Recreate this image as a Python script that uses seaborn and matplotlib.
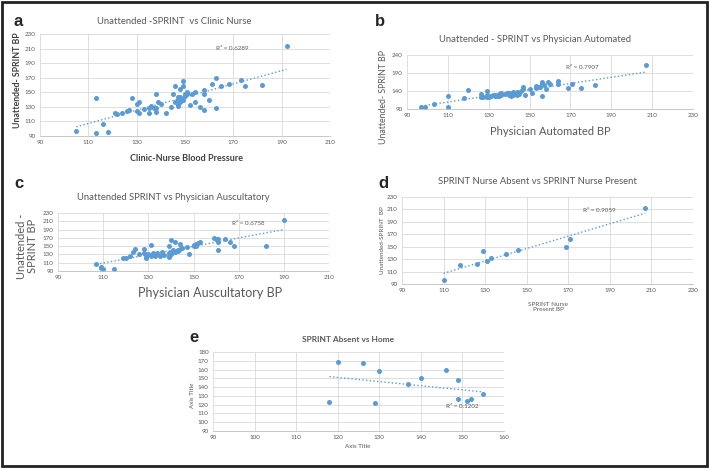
import numpy as np
import pandas as pd
import matplotlib
matplotlib.use("Agg")
import matplotlib.pyplot as plt
import seaborn as sns
from matplotlib.patches import Rectangle

sns.set_theme(style="white")
plt.rcParams['font.family'] = ['Lato', 'DejaVu Sans']

# --- panel a: unattended vs clinic nurse ---
a_x = [105, 113, 113, 116, 118, 121, 122, 124, 126, 127, 128, 130, 130, 131, 131, 133,
       135, 135, 136, 137, 138, 138, 138, 139, 140, 142, 144, 145, 146, 147, 147, 148,
       148, 149, 149, 148, 149, 148, 150, 150, 151, 152, 153, 154, 154, 156, 158, 158,
       158, 160, 161, 163, 163, 165, 168, 173, 175, 182, 192, 146, 147, 147, 148, 151]
a_y = [97, 142, 94, 106, 95, 121, 120, 121, 124, 125, 142, 124, 134, 136, 122, 127,
       122, 129, 131, 128, 128, 147, 123, 137, 134, 121, 130, 147, 159, 131, 134, 155,
       143, 166, 158, 137, 139, 142, 147, 145, 148, 133, 147, 151, 136, 130, 153, 148,
       126, 140, 162, 169, 128, 158, 161, 167, 158, 160, 213, 136, 140, 144, 140, 150]

# --- panel b: unattended vs physician automated ---
b_x = [97, 99, 103, 110, 110, 118, 120, 126, 126, 127, 129, 129, 129, 131, 132, 133,
       134, 135, 135, 136, 136, 140, 140, 141, 142, 143, 144, 145, 146, 147, 147, 148,
       151, 153, 153, 154, 155, 156, 156, 156, 158, 159, 160, 164, 164, 169, 171, 175,
       182, 207, 130, 133, 138, 139, 142, 144, 150, 157]
b_y = [95, 96, 105, 126, 95, 120, 142, 131, 122, 122, 141, 130, 122, 125, 128, 130,
       125, 132, 127, 134, 128, 130, 134, 125, 130, 134, 130, 133, 139, 145, 150, 130,
       134, 148, 153, 150, 151, 165, 159, 125, 146, 165, 159, 168, 160, 148, 160, 149,
       156, 212, 124, 126, 131, 135, 136, 138, 145, 156]

# --- panel c: unattended vs physician auscultatory ---
c_x = [107, 109, 109, 110, 115, 119, 120, 122, 123, 124, 126, 128, 128, 129, 130, 131,
       131, 132, 133, 134, 136, 137, 139, 139, 139, 140, 140, 141, 142, 143, 144, 144,
       145, 147, 148, 150, 151, 151, 152, 153, 159, 160, 161, 161, 161, 164, 166, 168,
       182, 190, 139, 140, 142, 143, 129, 133, 135, 150]
c_y = [108, 99, 97, 95, 96, 121, 122, 126, 137, 144, 130, 143, 134, 124, 130, 152,
       125, 133, 127, 133, 137, 129, 133, 151, 123, 166, 137, 141, 159, 141, 156, 142,
       145, 148, 132, 150, 156, 150, 158, 159, 170, 167, 160, 141, 167, 167, 161, 150,
       150, 213, 127, 131, 135, 138, 122, 129, 125, 153]

# --- panel d: nurse absent vs nurse present ---
d_x = [110, 118, 126, 129, 131, 133, 140, 146, 169, 171, 207]
d_y = [96, 121, 122, 143, 127, 132, 138, 144, 150, 162, 213]

# --- panel e: absent vs home ---
e_x = [118, 120, 126, 130, 129, 137, 140, 146, 149, 149, 151, 152, 155]
e_y = [123, 169, 167, 158, 122, 144, 150, 159, 148, 127, 124, 126, 132]

BLUE = '#5B9BD5'
GRID = '#D9D9D9'
TXT = '#595959'
TITLE_FS = 6.8

fig = plt.figure(figsize=(7.09, 4.69), dpi=100)


def px_axes(x0, y0, x1, y1):
    # pixel box (left, top, right, bottom) -> figure axes
    W, H = 709, 469
    return fig.add_axes([x0 / W, 1 - y1 / H, (x1 - x0) / W, (y1 - y0) / H])


def panel(ax, x, y, xlim, xstep, ylim, ystep, r2, r2_pos):
    df = pd.DataFrame({'x': x, 'y': y})
    sns.regplot(data=df, x='x', y='y', ax=ax, ci=None, color=BLUE,
                scatter_kws={'s': 13, 'alpha': 1, 'linewidths': 0},
                line_kws={'ls': ':', 'lw': 1.0, 'color': BLUE})
    ax.set_xlim(*xlim)
    ax.set_ylim(*ylim)
    ax.set_xticks(np.arange(xlim[0], xlim[1] + 1, xstep))
    ax.set_yticks(np.arange(ylim[0], ylim[1] + 1, ystep))
    ax.grid(True, color=GRID, lw=0.6)
    ax.set_axisbelow(True)
    for s in ['top', 'right', 'left']:
        ax.spines[s].set_visible(False)
    ax.spines['bottom'].set_color('#BFBFBF')
    ax.spines['bottom'].set_linewidth(0.6)
    ax.tick_params(axis='both', length=0, labelsize=4.5, labelcolor=TXT, pad=3)
    ax.set_xlabel('')
    ax.set_ylabel('')
    ax.text(r2_pos[0], r2_pos[1], r2, fontsize=4.5, color=TXT)


# a
ax = px_axes(40, 34, 330, 136)
panel(ax, a_x, a_y, (90, 210), 20, (90, 230), 20, 'R² = 0.6289', (163, 208))
fig.text(14 / 709, 1 - 21 / 469, 'a', fontsize=12, fontweight='bold', family='Liberation Sans', va='center')
fig.text(174 / 709, 1 - 21 / 469, 'Unattended -SPRINT  vs Clinic Nurse', fontsize=TITLE_FS, color=TXT, ha='center', va='center')
fig.text(18 / 709, 1 - 80 / 469, 'Unattended- SPRINT BP', fontsize=6.3, fontweight='bold', color='#404040', rotation=90, ha='center', va='center')
fig.text(186 / 709, 1 - 158 / 469, 'Clinic-Nurse Blood Pressure', fontsize=6.5, fontweight='bold', color='#404040', ha='center', va='center')

# b
ax = px_axes(407, 55, 693, 109)
panel(ax, b_x, b_y, (90, 230), 20, (90, 240), 50, 'R² = 0.7907', (168, 202))
fig.text(375 / 709, 1 - 22 / 469, 'b', fontsize=12, fontweight='bold', family='Liberation Sans', va='center')
fig.text(535 / 709, 1 - 40 / 469, 'Unattended - SPRINT vs Physician Automated', fontsize=TITLE_FS, color=TXT, ha='center', va='center')
fig.text(383 / 709, 1 - 97 / 469, 'Unattended- SPRINT BP', fontsize=6.3, color=TXT, rotation=90, ha='center', va='center')
fig.text(550 / 709, 1 - 131 / 469, 'Physician Automated BP', fontsize=8, color=TXT, ha='center', va='center')

# c
ax = px_axes(58, 213, 329, 271)
panel(ax, c_x, c_y, (90, 210), 20, (90, 230), 20, 'R² = 0.6758', (167, 200))
fig.text(14 / 709, 1 - 184 / 469, 'c', fontsize=12, fontweight='bold', family='Liberation Sans', va='center')
fig.text(173 / 709, 1 - 198 / 469, 'Unattended SPRINT vs Physician Auscultatory', fontsize=TITLE_FS, color=TXT, ha='center', va='center')
fig.text(27 / 709, 1 - 246 / 469, 'Unattended -\nSPRINT BP', fontsize=8, color=TXT, rotation=90, ha='center', va='center', linespacing=1.05)
fig.text(210 / 709, 1 - 293 / 469, 'Physician Auscultatory BP', fontsize=9, color=TXT, ha='center', va='center')

# d
ax = px_axes(402, 197, 693, 284)
panel(ax, d_x, d_y, (90, 230), 20, (90, 230), 20, 'R² = 0.9059', (177, 206))
fig.text(378 / 709, 1 - 183 / 469, 'd', fontsize=12, fontweight='bold', family='Liberation Sans', va='center')
fig.text(537 / 709, 1 - 182 / 469, 'SPRINT Nurse Absent vs SPRINT Nurse Present', fontsize=TITLE_FS, color=TXT, ha='center', va='center')
fig.text(382 / 709, 1 - 240 / 469, 'Unattended-SPRINT  BP', fontsize=4.5, color=TXT, rotation=90, ha='center', va='center')
fig.text(548 / 709, 1 - 307 / 469, 'SPRINT Nurse\nPresent BP', fontsize=4.5, color=TXT, ha='center', va='center')

# e
ax = px_axes(213, 352, 504, 431)
panel(ax, e_x, e_y, (90, 160), 10, (90, 180), 10, 'R² = 0.1202', (146, 116))
fig.text(189 / 709, 1 - 337 / 469, 'e', fontsize=12, fontweight='bold', family='Liberation Sans', va='center')
fig.text(348 / 709, 1 - 339 / 469, 'SPRINT Absent vs Home', fontsize=6, fontweight='bold', color=TXT, ha='center', va='center')
fig.text(192 / 709, 1 - 395 / 469, 'Axis Title', fontsize=4.5, color=TXT, rotation=90, ha='center', va='center')
fig.text(358 / 709, 1 - 446 / 469, 'Axis Title', fontsize=4.5, color=TXT, ha='center', va='center')

# outer frame
fig.patches.append(Rectangle((0.003, 0.006), 0.994, 0.99, transform=fig.transFigure,
                             fill=False, ec='#222222', lw=2))

fig.savefig('out.png', dpi=100)
